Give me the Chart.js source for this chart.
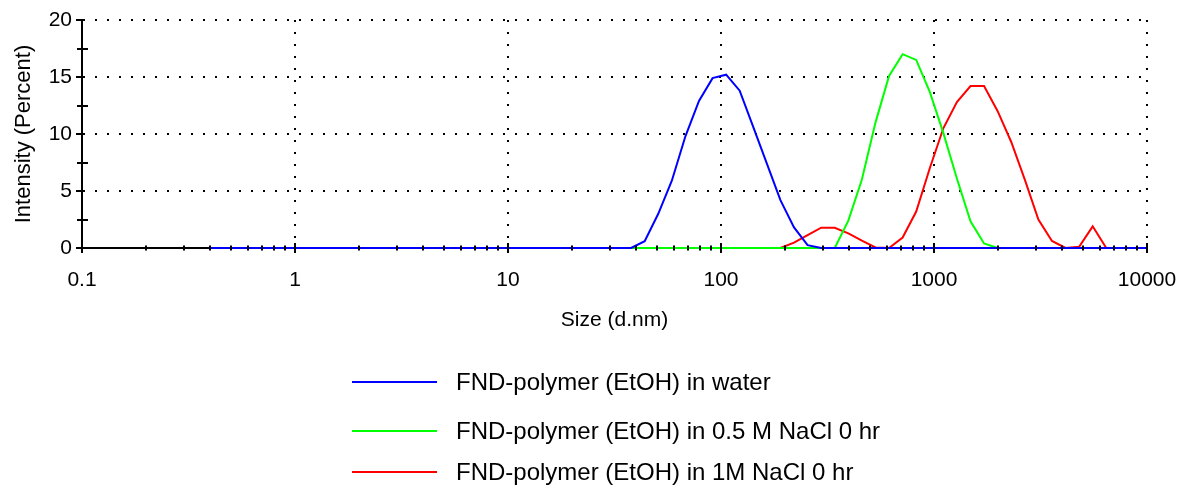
<!DOCTYPE html>
<html>
<head>
<meta charset="utf-8">
<script src="https://cdn.jsdelivr.net/npm/chart.js@4"></script>
<style>
html,body{margin:0;padding:0;background:#fff;width:1180px;height:489px;overflow:hidden;font-family:"Liberation Sans",Arial,sans-serif;}
#wrap{position:relative;width:1180px;height:489px;}
#c{position:absolute;left:0;top:0;}
.leg{position:absolute;left:352px;height:30px;display:flex;align-items:center;font-size:24px;color:#000;white-space:nowrap;}
.leg .l{display:inline-block;width:85px;height:2px;margin-right:19px;}
</style>
</head>
<body>
<div id="wrap">
<canvas id="c" width="1180" height="489"></canvas>
<div id="legend"></div>
</div>
<script>
// Size classes (d.nm)
const sizes = [0.4, 0.4632, 0.5365, 0.6213, 0.7195, 0.8332, 0.9649, 1.117, 1.294, 1.499,
  1.736, 2.010, 2.328, 2.696, 3.122, 3.615, 4.187, 4.849, 5.615, 6.503,
  7.531, 8.721, 10.10, 11.70, 13.54, 15.69, 18.17, 21.04, 24.36, 28.21,
  32.67, 37.84, 43.82, 50.75, 58.77, 68.06, 78.82, 91.28, 105.7, 122.4,
  141.8, 164.2, 190.1, 220.2, 255.0, 295.3, 342.0, 396.1, 458.7, 531.2,
  615.1, 712.4, 825.0, 955.4, 1106, 1281, 1484, 1718, 1990, 2305,
  2669, 3091, 3580, 4145, 4801, 5560, 6439, 7456, 8635, 10000];

// Intensity (%) – FND-polymer (EtOH) in water
const water = [0,0,0,0,0,0,0,0,0,0,
  0,0,0,0,0,0,0,0,0,0,
  0,0,0,0,0,0,0,0,0,0,
  0,0,0.6,3.0,5.9,9.8,12.9,14.9,15.2,13.8,
  10.6,7.4,4.2,1.8,0.25,0,0,0,0,0,
  0,0,0,0,0,0,0,0,0,0,
  0,0,0,0,0,0,0,0,0,0];

// Intensity (%) – in 0.5 M NaCl 0 hr
const nacl05 = [0,0,0,0,0,0,0,0,0,0,
  0,0,0,0,0,0,0,0,0,0,
  0,0,0,0,0,0,0,0,0,0,
  0,0,0,0,0,0,0,0,0,0,
  0,0,0,0,0,0,0,2.4,6.0,11.0,
  15.1,17.0,16.5,13.7,10.1,6.1,2.35,0.4,0,0,
  0,0,0,0,0,0,0,0,0,0];

// Intensity (%) – in 1M NaCl 0 hr
const nacl1 = [0,0,0,0,0,0,0,0,0,0,
  0,0,0,0,0,0,0,0,0,0,
  0,0,0,0,0,0,0,0,0,0,
  0,0,0,0,0,0,0,0,0,0,
  0,0,0,0.47,1.14,1.78,1.78,1.28,0.64,0.05,
  0,0.92,3.2,7.0,10.5,12.8,14.2,14.2,12.0,9.3,
  6.0,2.5,0.62,0,0.1,1.9,0,0,0,0];

const seriesNames = ['FND-polymer (EtOH) in water',
  'FND-polymer (EtOH) in 0.5 M NaCl 0 hr',
  'FND-polymer (EtOH) in 1M NaCl 0 hr'];
const seriesColors = ['#0000ff', '#00ff00', '#ff0000'];
const seriesValues = [water, nacl05, nacl1];

const xMajorTicks = [0.1, 1, 10, 100, 1000, 10000];
const xTickLabels = ['0.1', '1', '10', '100', '1000', '10000'];
const xMinorMultipliers = [2, 3, 4, 5, 6, 7, 8, 9];
const yTicks = [0, 2.5, 5, 7.5, 10, 12.5, 15, 17.5, 20];
const yMajorTicks = [0, 5, 10, 15, 20];
const yTickLabels = ['0', '5', '10', '15', '20'];

const xAllTicks = [];
xMajorTicks.forEach((d, i) => {
  xAllTicks.push(d);
  if (i < xMajorTicks.length - 1) xMinorMultipliers.forEach(m => xAllTicks.push(d * m));
});
function majorIndex(v, list) {
  for (let i = 0; i < list.length; i++) if (Math.abs(v - list[i]) < 1e-9 * Math.max(1, list[i])) return i;
  return -1;
}

const tickMarks = {
  id: 'tickMarks',
  afterDatasetsDraw(chart) {
    const ctx = chart.ctx, xs = chart.scales.x, ys = chart.scales.y;
    const a = chart.chartArea;
    ctx.save();
    ctx.strokeStyle = '#000';
    ctx.lineWidth = 2;
    ctx.beginPath();
    xAllTicks.forEach(v => {
      const px = Math.round(xs.getPixelForValue(v));
      const h = majorIndex(v, xMajorTicks) >= 0 ? 5 : 2.5;
      ctx.moveTo(px, a.bottom - h);
      ctx.lineTo(px, a.bottom + h);
    });
    yTicks.forEach(v => {
      const py = Math.round(ys.getPixelForValue(v));
      if (majorIndex(v, yMajorTicks) >= 0) {
        ctx.moveTo(a.left - 6, py);
        ctx.lineTo(a.left + 2, py);
      } else {
        ctx.moveTo(a.left - 5, py);
        ctx.lineTo(a.left + 6, py);
      }
    });
    ctx.stroke();
    ctx.restore();
  }
};

const datasets = seriesValues.map((vals, i) => ({
  label: seriesNames[i],
  data: sizes.map((s, j) => ({x: s, y: vals[j]})),
  borderColor: seriesColors[i],
  backgroundColor: seriesColors[i],
  borderWidth: 2,
  pointRadius: 0,
  tension: 0,
  fill: false,
  clip: 2
}));

new Chart(document.getElementById('c'), {
  type: 'line',
  data: {datasets},
  plugins: [tickMarks],
  options: {
    responsive: false,
    animation: false,
    devicePixelRatio: 1,
    layout: {padding: {top: 20, right: 33, bottom: 141, left: 0}},
    plugins: {legend: {display: false}, tooltip: {enabled: false}},
    scales: {
      x: {
        type: 'logarithmic',
        min: 0.1, max: 10000,
        afterBuildTicks: s => { s.ticks = xAllTicks.map(v => ({value: v})); },
        afterFit: s => { s.height = 100; s.paddingLeft = 0; s.paddingRight = 0; },
        ticks: {
          autoSkip: false, maxRotation: 0, minRotation: 0, padding: 20,
          color: '#000',
          font: {family: '"Liberation Sans", Arial, sans-serif', size: 21},
          callback: v => { const k = majorIndex(v, xMajorTicks); return k >= 0 ? xTickLabels[k] : ''; }
        },
        grid: {
          drawTicks: false,
          lineWidth: 2,
          color: c => (c.tick && majorIndex(c.tick.value, xMajorTicks) >= 0) ? '#000' : 'rgba(0,0,0,0)'
        },
        border: {display: true, color: '#000', width: 2, dash: [2, 10]},
        title: {
          display: true, text: 'Size (d.nm)', color: '#000',
          font: {family: '"Liberation Sans", Arial, sans-serif', size: 21},
          padding: {top: 0, bottom: 15}
        }
      },
      y: {
        min: 0, max: 20,
        afterBuildTicks: s => { s.ticks = yTicks.map(v => ({value: v})); },
        afterFit: s => { s.width = 82; s.paddingTop = 0; s.paddingBottom = 0; },
        ticks: {
          autoSkip: false, padding: 10, color: '#000',
          font: {family: '"Liberation Sans", Arial, sans-serif', size: 21},
          callback: v => { const k = majorIndex(v, yMajorTicks); return k >= 0 ? yTickLabels[k] : ''; }
        },
        grid: {
          drawTicks: false,
          lineWidth: 2,
          color: c => (c.tick && majorIndex(c.tick.value, yMajorTicks) >= 0) ? '#000' : 'rgba(0,0,0,0)'
        },
        border: {display: true, color: '#000', width: 2, dash: [2, 10]},
        title: {
          display: true, text: 'Intensity (Percent)', color: '#000',
          font: {family: '"Liberation Sans", Arial, sans-serif', size: 22},
          padding: {top: 11, bottom: 0}
        }
      }
    }
  }
});

// HTML legend
const legendTops = [382, 431, 472];
const legend = document.getElementById('legend');
seriesNames.forEach((n, i) => {
  const d = document.createElement('div');
  d.className = 'leg';
  d.style.top = (legendTops[i] - 15) + 'px';
  const l = document.createElement('span');
  l.className = 'l';
  l.style.background = seriesColors[i];
  const t = document.createElement('span');
  t.textContent = n;
  d.appendChild(l); d.appendChild(t);
  legend.appendChild(d);
});
</script>
</body>
</html>
